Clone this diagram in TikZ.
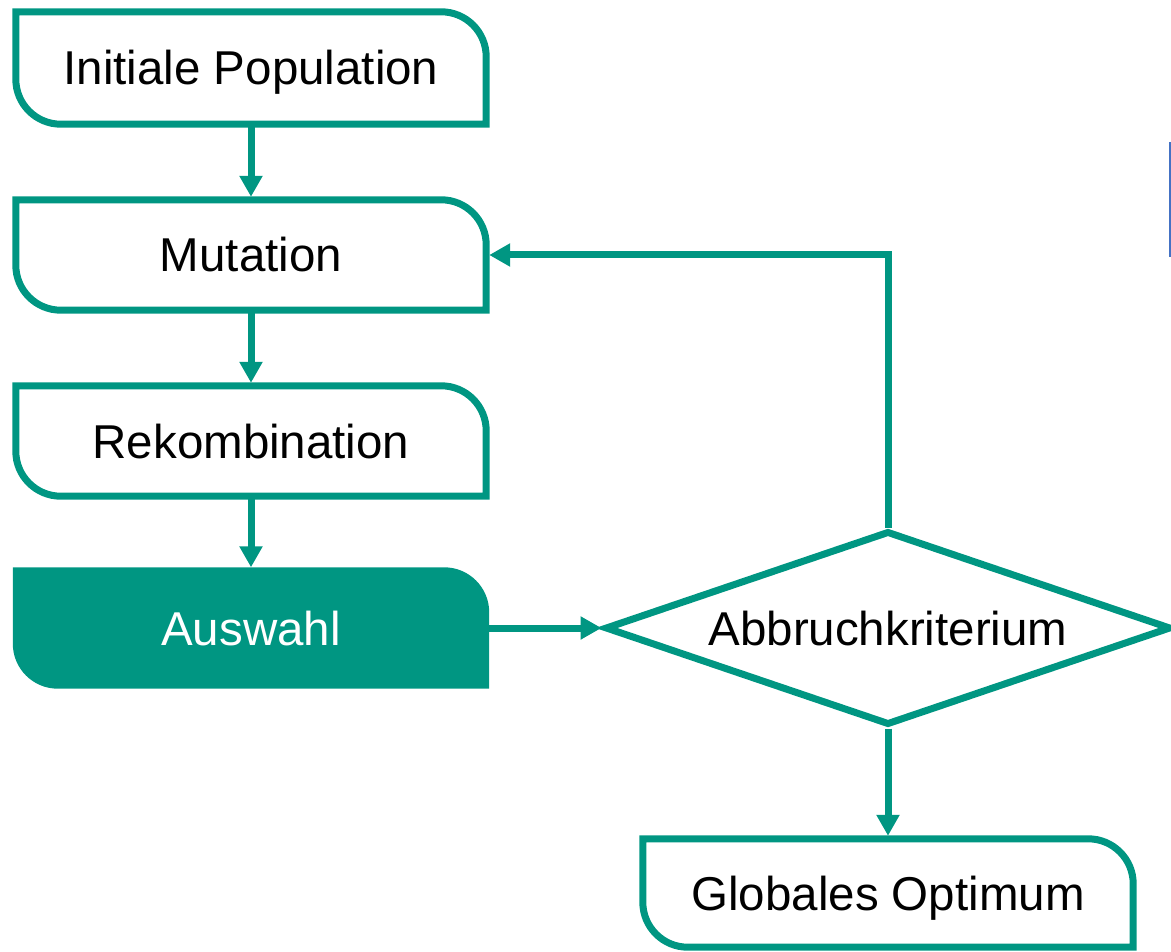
\documentclass[tikz,border=0pt]{standalone}
\usepackage{fontspec}
\setmainfont{Liberation Sans}
\usetikzlibrary{arrows.meta,shapes.geometric}
\definecolor{kit}{RGB}{0,150,130}
\definecolor{cursorblue}{RGB}{68,114,196}
\newcommand\kitoutline[2][]{%
  \draw[kitline,#1] (#2.north west) -- ([xshift=-45pt]#2.north east)
    arc[start angle=90,end angle=0,radius=45pt] -- (#2.south east)
    -- ([xshift=45pt]#2.south west)
    arc[start angle=270,end angle=180,radius=45pt] -- cycle;}
\tikzset{
  x=1pt,y=1pt,
  kitline/.style={draw=kit,line width=7pt,line join=miter},
  kitbox/.style={rectangle,minimum width=470pt,minimum height=112pt,inner sep=0pt,
    font=\fontsize{47.5}{55}\selectfont,text=black,text height=34pt,text depth=0pt},
  conn/.style={draw=kit,line width=7pt,-{Triangle[length=21pt,width=22pt]}},
  decision/.style={diamond,draw=kit,line width=7pt,aspect=2.918,minimum width=566pt,minimum height=194pt,
    inner sep=0pt,font=\fontsize{47.5}{55}\selectfont,text=black,text height=34pt,text depth=0pt}
}
\begin{document}
\begin{tikzpicture}
\useasboundingbox (0,0) rectangle (1171,-952);
\node[kitbox] (init) at (251,-68) {Initiale Population};
\node[kitbox,minimum height=110pt] (mut) at (251,-255) {Mutation};
\node[kitbox,minimum height=110pt] (rek) at (251,-441) {Rekombination};
\node[kitbox,minimum height=121pt,minimum width=476pt,text=white] (ausw) at (251,-628) {};
\kitoutline{init}
\kitoutline{mut}
\kitoutline{rek}
\kitoutline[fill=kit,draw=none]{ausw}
\node[kitbox,text=white] at (ausw.center) {Auswahl};
\node[decision] (abb) at (888,-628) {Abbruchkriterium};
\node[kitbox,minimum width=490pt,minimum height=108pt] (glob) at (888,-893) {Globales Optimum};
\kitoutline{glob}
\draw[conn,shorten >=3pt] (init.south) -- (mut.north);
\draw[conn,shorten >=3pt] (mut.south) -- (rek.north);
\draw[conn] (rek.south) -- (ausw.north);
\draw[conn] (ausw.east) -- (abb.west);
\draw[conn,shorten >=3pt] (abb.south) -- (glob.north);
\draw[conn,shorten >=3pt] (abb.north) |- (mut.east);
\coordinate (cTop) at (1170,-142);
\coordinate (cBot) at (1170,-257);
\draw[cursorblue,line width=2.5pt] (cTop) -- (cBot);
\end{tikzpicture}
\end{document}
